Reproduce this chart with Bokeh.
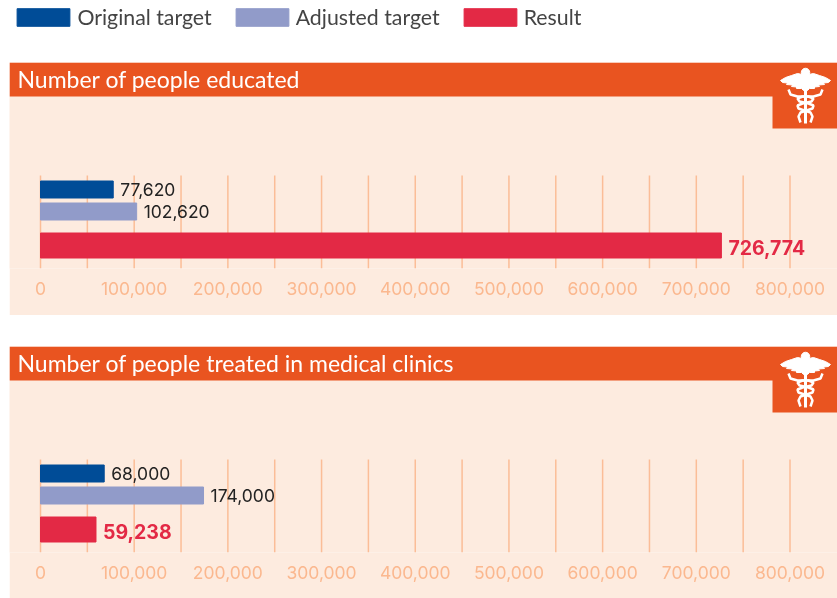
from bokeh.plotting import figure
from bokeh.layouts import column
from bokeh.models import Range1d, LinearAxis, FixedTicker, NumeralTickFormatter, Legend, LegendItem, BoxAnnotation, Label
from bokeh.embed import file_html
from bokeh.resources import INLINE

series = ["Original target", "Adjusted target", "Result"]
titles = ["Number of people educated", "Number of people treated in medical clinics"]
original = [77620, 68000]
adjusted = [102620, 174000]
result = [726774, 59238]
label_ticks = [0, 100000, 200000, 300000, 400000, 500000, 600000, 700000, 800000]
grid_ticks = [0, 50000, 100000, 150000, 200000, 250000, 300000, 350000, 400000, 450000, 500000, 550000, 600000, 650000, 700000, 750000, 800000]

BLUE, LAV, RED = "#004c97", "#919bc9", "#e32945"
ORANGE, PANEL, TICK, GRID = "#e95420", "#fdebdf", "#fbb88f", "#fbbd97"
FONT = "Lato"
K = 800000 / 749.5


def X(px):
    return (px - 40) * K


def icon(p):
    cx = 805

    def xs(v):
        return [X(cx + a) for a in v]

    wing_x = [-3, -8, -14, -20, -25, -23, -18, -19, -13, -14, -9, -9, -4, -2, 0]
    wing_y = [12, 11, 13, 15, 18, 20, 20.5, 22, 22.5, 24, 24.5, 26, 26, 28, 28]
    full_x = wing_x + [-a for a in reversed(wing_x)]
    full_y = wing_y + list(reversed(wing_y))
    p.patch(xs(full_x), full_y, color="white")
    p.scatter([X(cx)], [10], size=8.5, color="white")
    p.line(xs([0, 0]), [12, 61], line_color="white", line_width=3)
    sx = [-17, -15, -8, 3, 8, 6, -3, -8, -7, -1, 5, 7, 5]
    sy = [27, 32, 34, 34, 36, 39, 41, 43, 46, 48, 50, 54, 60]
    p.line(xs(sx), sy, line_color="white", line_width=2.5)
    p.line(xs([-a for a in sx]), sy, line_color="white", line_width=2.5)


def panel(i, height):
    p = figure(width=828, height=height, x_range=Range1d(X(9), X(837)), y_range=Range1d(206, 0),
               output_backend="svg", toolbar_location=None, x_axis_type=None, y_axis_type=None,
               min_border_left=0, min_border_right=0, min_border_top=0, min_border_bottom=height - 206,
               outline_line_color=None, background_fill_color=PANEL, border_fill_color=PANEL,
               margin=(0, 0, 0, 9))
    p.grid.visible = False
    p.segment(x0=grid_ticks, x1=grid_ticks, y0=[113] * len(grid_ticks), y1=[206] * len(grid_ticks),
              line_color=GRID, line_width=1.5)
    ax = LinearAxis(ticker=FixedTicker(ticks=label_ticks), formatter=NumeralTickFormatter(format="0,0"),
                    axis_line_color=None, major_tick_line_color=None, minor_tick_line_color=None,
                    major_label_text_color=TICK, major_label_text_font="Inter",
                    major_label_text_font_size="17.5px", major_label_standoff=7)
    p.add_layout(ax, "below")
    p.add_layout(BoxAnnotation(left=X(9), right=X(837), top=0, bottom=34, fill_color=ORANGE, fill_alpha=1,
                               line_color=None, level="underlay"))
    p.add_layout(BoxAnnotation(left=X(772), right=X(837), top=20, bottom=66, fill_color=ORANGE, fill_alpha=1,
                               line_color=None, level="underlay"))
    p.add_layout(Label(x=X(17), y=16, text=titles[i], text_color="white", text_font=FONT,
                       text_font_size="23px", text_baseline="middle"))
    icon(p)
    ys = [127, 149, 183]
    hs = [17, 17, 25]
    vals = [original[i], adjusted[i], result[i]]
    cols = [BLUE, LAV, RED]
    p.hbar(y=ys, right=vals, left=0, height=hs, color=cols)
    for k in range(3):
        bold = k == 2
        p.add_layout(Label(x=vals[k] + 7 * K, y=ys[k] + (1.5 if bold else 0), text=f"{vals[k]:,}",
                           text_color=RED if bold else "#222222", text_font="Inter",
                           text_font_style="bold" if bold else "normal",
                           text_font_size="19.5px" if bold else "17.5px", text_baseline="middle"))
    return p


top = figure(width=837, height=62, output_backend="svg", toolbar_location=None, x_axis_type=None, y_axis_type=None,
             x_range=Range1d(0, 1), y_range=Range1d(0, 1), min_border=0, outline_line_color=None)
top.grid.visible = False
rs = [top.hbar(y=[-5], right=[-5], left=[-6], height=[1], color=c) for c in (BLUE, LAV, RED)]
leg = Legend(items=[LegendItem(label=s, renderers=[r]) for s, r in zip(series, rs)], orientation="horizontal",
             location=(10.4, 62 - 16.5 - 11 - 9 + 6.5), glyph_width=66, glyph_height=22, label_standoff=1, spacing=17,
             label_text_font=FONT, label_text_font_size="21.3px", label_text_color="#444444",
             background_fill_alpha=0, border_line_color=None, padding=9, margin=0)
top.add_layout(leg)

p1 = panel(0, 253)
p2 = panel(1, 252)
p2.margin = (31, 0, 0, 9)
layout = column(top, p1, p2, spacing=0)
layout.styles = {"position": "fixed", "left": "0", "top": "0"}
open("out.html", "w").write(file_html(layout, INLINE))
